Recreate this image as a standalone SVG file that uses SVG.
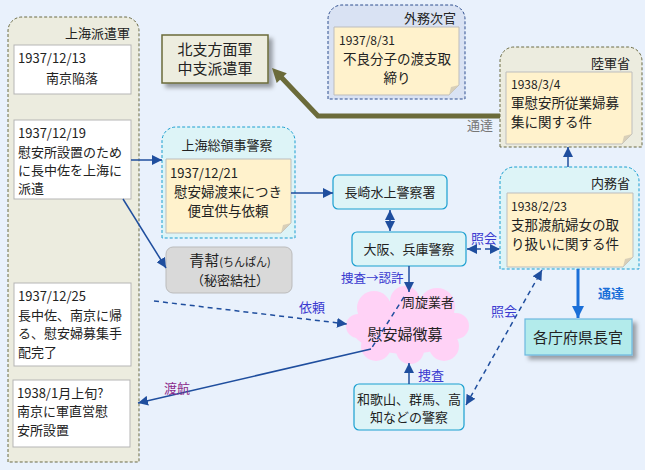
<svg xmlns="http://www.w3.org/2000/svg" width="645" height="470" viewBox="0 0 645 470">
<style>
text{font-family:"Noto Sans CJK JP","Noto Sans",sans-serif;fill:#222;}
.t13{font-size:13px;}
.t14{font-size:13.5px;}
.t15{font-size:15px;}
.d12{font-size:12px;}
.mid{text-anchor:middle;}
.end{text-anchor:end;}
.wbox{fill:#fff;stroke:#b5b5b5;stroke-width:1;}
.note{fill:#fff2cc;stroke:#bdbdbd;stroke-width:1;}
.fold{fill:#d8cfb8;}
.grpO{fill:#ececdf;stroke:#6b6b45;stroke-width:1;stroke-dasharray:3,2;}
.grpC{fill:#ddf4f7;stroke:#1a9fd0;stroke-width:1;stroke-dasharray:3,2;}
.grpB{fill:#d9e2f3;stroke:#2f4f8f;stroke-width:1;stroke-dasharray:3,2;}
.cbox{fill:#ddf4f7;stroke:#1a9fd0;stroke-width:1.2;}
.ln{fill:none;stroke:#1f4e9e;stroke-width:1.5;}
.dash{stroke-dasharray:5,4;}
.lbl{font-size:13px;fill:#3a3ad0;}
</style>
<defs>
<marker id="ah" viewBox="0 0 10 10" refX="10" refY="5" markerWidth="10" markerHeight="10" markerUnits="userSpaceOnUse" orient="auto-start-reverse">
<path d="M0,0 L10,5 L0,10 z" fill="#1f4e9e"/>
</marker>
<marker id="ahb" viewBox="0 0 10 10" refX="10" refY="5" markerWidth="12" markerHeight="12" markerUnits="userSpaceOnUse" orient="auto">
<path d="M0,0 L10,5 L0,10 z" fill="#1a6fd8"/>
</marker>
<filter id="sh" x="-20%" y="-20%" width="150%" height="160%">
<feDropShadow dx="4" dy="4" stdDeviation="2" flood-color="#000" flood-opacity="0.35"/>
</filter>
</defs>
<rect x="0" y="0" width="645" height="470" fill="#e9f1fc"/>

<g id="shanghai-army">
<path class="grpO" d="M8,462 V31 A14,14 0 0 1 22,17 H125 A14,14 0 0 1 139,31 V462 Z"/>
<text class="t13 end" x="130" y="38">上海派遣軍</text>
</g>
<g id="n-19371213">
<rect class="wbox" x="14" y="45" width="117" height="49"/>
<text class="t13" x="18" y="63">1937/12/13</text>
<text class="t13 mid" x="72" y="83">南京陥落</text>
</g>
<g id="n-19371219">
<rect class="wbox" x="14" y="120" width="117" height="79"/>
<text class="t13" x="18" y="138">1937/12/19</text>
<text class="t13" x="18" y="157">慰安所設置のため</text>
<text class="t13" x="18" y="175">に長中佐を上海に</text>
<text class="t13" x="18" y="193">派遣</text>
</g>
<g id="n-19371225">
<rect class="wbox" x="14" y="283" width="117" height="83"/>
<text class="t13" x="18" y="301">1937/12/25</text>
<text class="t13" x="18" y="320">長中佐、南京に帰</text>
<text class="t13" x="18" y="338">る、慰安婦募集手</text>
<text class="t13" x="18" y="357">配完了</text>
</g>
<g id="n-19381">
<rect class="wbox" x="13" y="380" width="117" height="67"/>
<text class="t13" x="17" y="398">1938/1月上旬?</text>
<text class="t13" x="17" y="416">南京に軍直営慰</text>
<text class="t13" x="17" y="435">安所設置</text>
</g>

<g id="north-central-army">
<rect x="162" y="35" width="106" height="48" fill="#ededdf" stroke="#6b6b3a" stroke-width="1.5" filter="url(#sh)"/>
<text class="t15 mid" x="215" y="55">北支方面軍</text>
<text class="t15 mid" x="215" y="74">中支派遣軍</text>
</g>

<g id="gaimu">
<path class="grpB" d="M328,99 V19 A14,14 0 0 1 342,5 H451 A14,14 0 0 1 465,19 V99 Z"/>
<text class="t13 end" x="456" y="23">外務次官</text>
<path class="note" d="M334,27 H459 V85 L449,95 H334 Z"/>
<path class="fold" d="M459,85 L449,95 L451,87 Z"/>
<text class="d12" x="339" y="45">1937/8/31</text>
<text class="t14 mid" x="397" y="64">不良分子の渡支取</text>
<text class="t14 mid" x="397" y="83">締り</text>
</g>

<g id="rikugun">
<path class="grpO" d="M500,147 V61 A14,14 0 0 1 514,47 H628 A14,14 0 0 1 642,61 V147 Z"/>
<text class="t13 end" x="630" y="68">陸軍省</text>
<path class="note" d="M506,72 H632 V134 L622,144 H506 Z"/>
<path class="fold" d="M632,134 L622,144 L624,136 Z"/>
<text class="d12" x="511" y="89">1938/3/4</text>
<text class="t14" x="511" y="108">軍慰安所従業婦募</text>
<text class="t14" x="511" y="127">集に関する件</text>
</g>

<g id="naimu">
<path class="grpC" d="M500,269 V181 A14,14 0 0 1 514,167 H625 A14,14 0 0 1 639,181 V269 Z"/>
<text class="t13 end" x="630" y="188">内務省</text>
<path class="note" d="M507,193 H633 V257 L623,267 H507 Z"/>
<path class="fold" d="M633,257 L623,267 L625,259 Z"/>
<text class="d12" x="511" y="211">1938/2/23</text>
<text class="t14" x="511" y="230">支那渡航婦女の取</text>
<text class="t14" x="511" y="249">り扱いに関する件</text>
</g>

<g id="prefectures">
<rect x="525" y="319" width="107" height="36" fill="#b3ebeb" stroke="#6cb8e0" stroke-width="1.2" filter="url(#sh)"/>
<text class="t15 mid" x="578" y="343">各庁府県長官</text>
</g>

<g id="shanghai-consulate">
<path class="grpC" d="M162,238 V141 A14,14 0 0 1 176,127 H281 A14,14 0 0 1 295,141 V238 Z"/>
<text class="t13 mid" x="227" y="150">上海総領事警察</text>
<path class="note" d="M166,159 H291 V223 L281,233 H166 Z"/>
<path class="fold" d="M291,223 L281,233 L283,225 Z"/>
<text class="t13" x="170" y="178">1937/12/21</text>
<text class="t14 mid" x="228" y="197">慰安婦渡来につき</text>
<text class="t14 mid" x="228" y="216">便宜供与依頼</text>
</g>

<g id="qingbang">
<rect x="166" y="247" width="126" height="46" rx="7" fill="#d9d9d9" stroke="#bbbbbb"/>
<text class="mid" x="230" y="266"><tspan font-size="15">青幇</tspan><tspan font-size="11">(ちんぱん)</tspan></text>
<text class="t13 mid" x="230" y="285">（秘密結社）</text>
</g>

<g id="nagasaki">
<rect class="cbox" x="333" y="175" width="114" height="34" rx="5"/>
<text class="t13 mid" x="390" y="197">長崎水上警察署</text>
</g>
<g id="osaka">
<rect class="cbox" x="352" y="232" width="114" height="34" rx="5"/>
<text class="t13 mid" x="409" y="254">大阪、兵庫警察</text>
</g>
<g id="wakayama">
<rect class="cbox" x="354" y="384" width="110" height="46" rx="5"/>
<text class="t13 mid" x="409" y="404">和歌山、群馬、高</text>
<text class="t13 mid" x="409" y="422">知などの警察</text>
</g>

<g id="recruit-cloud">
<g fill="#ffd2f6">
<ellipse cx="407" cy="327" rx="56" ry="27"/>
<circle cx="374" cy="308" r="17"/>
<circle cx="405" cy="301" r="15"/>
<circle cx="437" cy="306" r="18"/>
<circle cx="456" cy="326" r="13"/>
<circle cx="444" cy="346" r="15"/>
<circle cx="410" cy="350" r="14"/>
<circle cx="376" cy="346" r="15"/>
<circle cx="358" cy="326" r="12"/>
</g>
<text class="t13" x="402" y="307">周旋業者</text>
<text class="t15 mid" x="405" y="340">慰安婦徴募</text>
</g>

<g id="connectors">
<path d="M500,116 H318 L281,77" fill="none" stroke="#6b6b3a" stroke-width="5"/>
<polygon points="272,68 286.8,73.3 276.7,82.9" fill="#6b6b3a"/>
<text x="480" y="130" font-size="13" class="mid" style="fill:#777">通達</text>

<line class="ln" x1="568" y1="167" x2="568" y2="147" marker-end="url(#ah)"/>
<line x1="578" y1="269" x2="578" y2="318" stroke="#1a6fd8" stroke-width="3" marker-end="url(#ahb)"/>
<text x="598" y="298" font-size="13" font-weight="bold" style="fill:#1a6fd8">通達</text>

<line class="ln" x1="131" y1="160" x2="162" y2="160" marker-end="url(#ah)"/>
<line class="ln" x1="123" y1="199" x2="166" y2="268" marker-end="url(#ah)"/>
<line class="ln" x1="291" y1="193" x2="333" y2="193" marker-end="url(#ah)"/>
<line class="ln" x1="390" y1="210" x2="390" y2="231" marker-start="url(#ah)" marker-end="url(#ah)"/>

<line class="ln dash" x1="467" y1="249" x2="500" y2="249" marker-start="url(#ah)" marker-end="url(#ah)"/>
<text class="lbl" x="484" y="243" text-anchor="middle">照会</text>

<line class="ln" x1="409" y1="266" x2="409" y2="292" marker-end="url(#ah)"/>
<text class="lbl" x="341" y="283" style="font-size:12.5px">捜査→認許</text>

<line class="ln dash" x1="154" y1="301" x2="347" y2="324" marker-end="url(#ah)"/>
<text class="lbl" x="312" y="312" text-anchor="middle">依頼</text>

<path class="ln dash" d="M404,297 L371,349"/>
<path class="ln" d="M371,349 L138,403" marker-end="url(#ah)"/>
<text x="177" y="393" font-size="13" text-anchor="middle" style="fill:#8b2a8b">渡航</text>

<line class="ln" x1="409" y1="384" x2="409" y2="363" marker-end="url(#ah)"/>
<text class="lbl" x="418" y="380">捜査</text>

<line class="ln dash" x1="466" y1="405" x2="542" y2="270" marker-start="url(#ah)" marker-end="url(#ah)"/>
<text class="lbl" x="504" y="316" text-anchor="middle">照会</text>
</g>
</svg>
